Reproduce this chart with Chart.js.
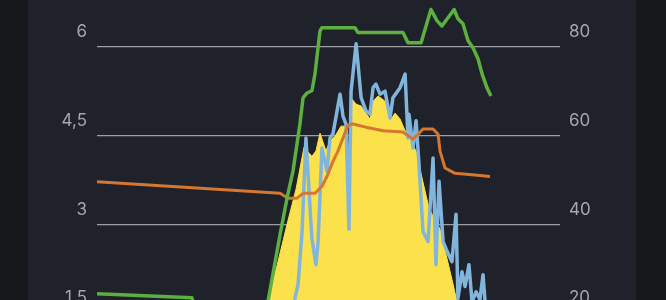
<!DOCTYPE html>
<html>
<head>
<meta charset="utf-8">
<script src="https://cdn.jsdelivr.net/npm/chart.js@4"></script>
<style>
  html, body { margin:0; padding:0; width:666px; height:300px; overflow:hidden; background:#16181b; }
  #panel { position:absolute; left:28px; top:0; width:608px; height:300px; background:#1f222a; }
  #wrap { position:absolute; left:0; top:-72px; width:666px; height:504px; }
</style>
</head>
<body>
<div id="panel"></div>
<div id="wrap"><canvas id="chart"></canvas></div>
<script>
// hours of the day and values
const socHours = [0, 4.92, 5.13, 8.66, 8.86, 9.49, 9.85, 10.16, 10.52, 10.68, 10.89, 11.14, 11.30, 11.56, 11.66, 13.37, 13.53, 15.86, 16.12, 16.80, 17.31, 17.62, 17.88, 18.51, 18.71, 18.97, 19.23, 19.49, 19.75, 19.96, 20.22, 20.42]
const socValues = [24.4, 23.5, 20.5, 20.0, 22.6, 37.7, 45.9, 52.0, 62.6, 68.5, 69.6, 70.1, 73.9, 83.6, 84.3, 84.3, 83.2, 83.2, 80.9, 80.9, 88.4, 85.9, 84.7, 88.4, 86.3, 85.2, 81.4, 79.8, 77.3, 73.9, 70.7, 68.9]

const tempHours = [0, 9.49, 9.90, 10.37, 10.68, 11.30, 11.66, 11.92, 12.23, 12.49, 13.01, 13.27, 13.94, 14.83, 15.86, 16.38, 16.64, 16.90, 17.42, 17.68, 17.78, 18.04, 18.56, 19.59, 20.37]
const tempValues = [49.6, 47.0, 45.9, 45.9, 47.0, 47.0, 48.6, 50.8, 54.2, 56.5, 62.4, 62.6, 61.9, 61.1, 60.8, 59.2, 60.3, 61.5, 61.5, 60.3, 56.5, 52.7, 51.5, 51.1, 50.8]

const loadHours = [0, 2, 4, 6, 8, 9.4, 10.21, 10.26, 10.42, 10.63, 10.83, 11.14, 11.35, 11.46, 11.66, 11.92, 12.08, 12.23, 12.60, 12.75, 12.91, 13.06, 13.17, 13.43, 13.53, 13.69, 13.94, 14.15, 14.31, 14.46, 14.67, 14.93, 15.19, 15.34, 15.71, 15.97, 16.12, 16.17, 16.38, 16.54, 16.69, 16.90, 17.16, 17.42, 17.57, 17.73, 17.94, 18.09, 18.40, 18.61, 18.71, 18.92, 19.08, 19.28, 19.44, 19.65, 19.85, 20.01, 20.16, 20.42]
const loadValues = [0.9, 0.7, 0.8, 1.1, 0.9, 1.2, 1.5, 1.75, 1.98, 2.88, 4.46, 2.76, 2.32, 2.71, 4.29, 3.90, 4.46, 4.53, 5.20, 4.83, 4.69, 2.92, 5.25, 6.05, 5.71, 5.14, 4.92, 4.86, 5.31, 5.37, 5.20, 5.25, 4.80, 5.14, 5.31, 5.54, 4.46, 4.86, 4.29, 4.75, 4.02, 2.88, 2.71, 4.12, 2.32, 3.73, 2.71, 2.59, 2.37, 3.17, 1.75, 2.2, 1.95, 2.32, 1.69, 1.86, 1.73, 2.15, 1.5, 1.35]

const solarHours = [7.21, 7.83, 8.35, 8.81, 9.33, 9.85, 10.32, 10.73, 11.14, 11.35, 11.56, 11.87, 12.08, 12.34, 12.65, 12.91, 13.01, 13.17, 13.43, 13.69, 13.94, 14.15, 14.31, 14.57, 14.93, 15.19, 15.45, 15.71, 15.97, 16.28, 16.59, 16.80, 17.21, 17.78, 18.45, 18.66, 18.92, 19.23, 19.44]
const solarValues = [0, 0.25, 0.85, 1.69, 2.3, 3.0, 3.6, 4.3, 4.15, 4.24, 4.54, 4.24, 4.41, 4.49, 4.66, 4.66, 2.92, 5.14, 5.03, 5.0, 4.88, 4.78, 5.08, 5.17, 5.08, 4.75, 4.88, 4.78, 4.58, 4.41, 4.20, 3.85, 3.27, 2.92, 2.0, 1.69, 1.19, 0.51, 0]

const kwTicks = [0, 1.5, 3, 4.5, 6, 7.5]
const pctTicks = [0, 20, 40, 60, 80, 100]

function pts(hours, values){
    return hours.map((h, i) => ({x: h, y: values[i]}))
}

const tickFont = {family: 'Inter', size: 17}
const tickColor = '#a4a7ad'

const ctx = document.getElementById('chart').getContext('2d')
const chart = new Chart(ctx, {
    type: 'line',
    data: {
        datasets: [
            {data: pts(socHours, socValues), yAxisID: 'pct', borderColor: '#5daf3f', borderWidth: 3.5},
            {data: pts(tempHours, tempValues), yAxisID: 'pct', borderColor: '#d7772f', borderWidth: 3},
            {data: pts(loadHours, loadValues), yAxisID: 'kw', borderColor: '#82b5dc', borderWidth: 3.5},
            {data: pts(solarHours, solarValues), yAxisID: 'kw', borderColor: '#fbe14b', borderWidth: 1,
             backgroundColor: '#fbe14b', fill: 'origin'}
        ]
    },
    options: {
        responsive: true,
        maintainAspectRatio: false,
        animation: false,
        layout: {padding: {top: 30, bottom: 30, left: 0, right: 0}},
        elements: {point: {radius: 0}, line: {tension: 0, borderJoinStyle: 'round'}},
        plugins: {legend: {display: false}, tooltip: {enabled: false}},
        scales: {
            x: {type: 'linear', min: 0, max: 24, display: false},
            kw: {
                position: 'left',
                min: kwTicks[0], max: kwTicks[kwTicks.length - 1],
                afterBuildTicks: s => { s.ticks = kwTicks.map(v => ({value: v})) },
                afterFit: s => { s.width = 97 },
                border: {display: false},
                grid: {color: '#9c9ea3', lineWidth: 1.3, drawTicks: false},
                ticks: {color: tickColor, font: tickFont, padding: 10, labelOffset: -15,
                        callback: v => String(v).replace('.', ',')}
            },
            pct: {
                position: 'right',
                min: pctTicks[0], max: pctTicks[pctTicks.length - 1],
                afterBuildTicks: s => { s.ticks = pctTicks.map(v => ({value: v})) },
                afterFit: s => { s.width = 106 },
                border: {display: false},
                grid: {display: false, drawTicks: false},
                ticks: {color: tickColor, font: tickFont, padding: 9, labelOffset: -15}
            }
        }
    }
})
</script>
</body>
</html>
